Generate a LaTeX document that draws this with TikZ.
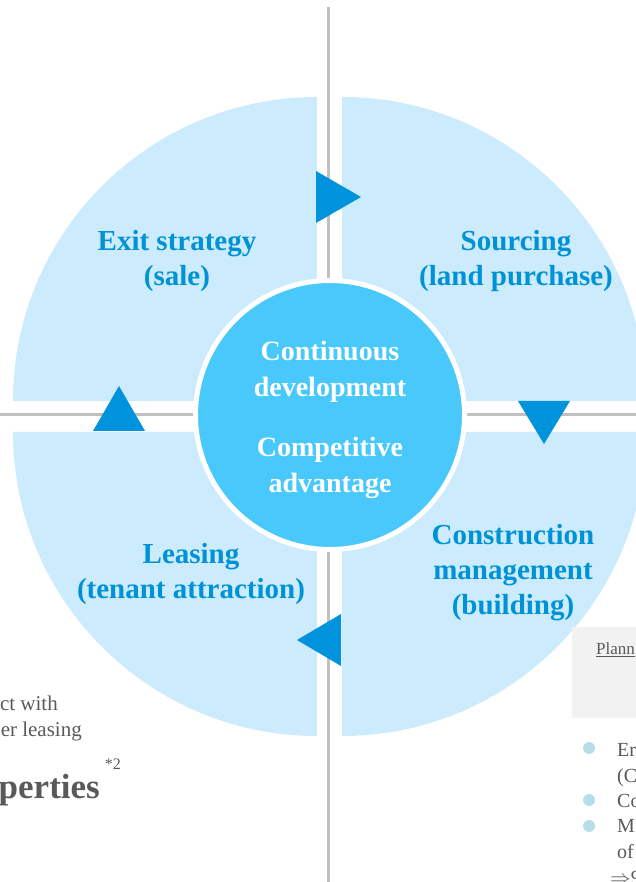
\documentclass[tikz,border=0pt]{standalone}
\usepackage{fontspec}
\setmainfont{Liberation Serif}
\usepackage{xcolor}
\usepackage{tikz}
\definecolor{quadfill}{HTML}{CCEBFC}
\definecolor{hubfill}{HTML}{49C8FB}
\definecolor{arrowblue}{HTML}{0093DD}
\definecolor{labelblue}{HTML}{0092D6}
\definecolor{axisgray}{HTML}{C0C0C0}
\definecolor{notegray}{HTML}{595959}
\definecolor{boxgray}{HTML}{F2F2F2}
\definecolor{dotteal}{HTML}{B7DEE8}

\begin{document}
\begin{tikzpicture}[x=1pt,y=1pt,
		quad/.style={fill=quadfill},
		turn/.style={fill=arrowblue},
		phase/.style={text=labelblue,font=\fontsize{29}{35}\selectfont\bfseries,align=center},
		hubtext/.style={text=white,font=\fontsize{28}{36}\selectfont\bfseries,align=center},
		note/.style={text=notegray,font=\fontsize{20}{26}\selectfont,inner sep=0pt},
		bulletdot/.style={circle,fill=dotteal,inner sep=0pt,minimum size=12pt}]
		\useasboundingbox (0,0) rectangle (636,882);
		\clip (0,0) rectangle (636,882);
		\fill[quad] (317,481) -- +(180:304) arc[start angle=180,end angle=90,radius=304pt] -- cycle;
		\fill[quad] (342,481) -- +(90:304) arc[start angle=90,end angle=0,radius=304pt] -- cycle;
		\fill[quad] (342,450) -- +(0:304) arc[start angle=0,end angle=-90,radius=304pt] -- cycle;
		\fill[quad] (317,450) -- +(270:304) arc[start angle=270,end angle=180,radius=304pt] -- cycle;
		\draw[axisgray,line width=3pt] (328.5,875) -- (328.5,0);
		\draw[axisgray,line width=3pt] (0,467) -- (636,467);
		\fill[turn] (316,711) -- (361,685) -- (316,659) -- cycle;
		\fill[turn] (518,481) -- (570,481) -- (544,438) -- cycle;
		\fill[turn] (341,268) -- (297,242) -- (341,216) -- cycle;
		\fill[turn] (93,451) -- (119,496) -- (145,451) -- cycle;
		\filldraw[fill=hubfill,draw=white,line width=5pt] (330,467) circle (134.5pt);
		\node[phase] (exit) at (177,620.5) {Exit strategy\\(sale)};
		\node[phase] (sourcing) at (516,620.5) {Sourcing\\(land purchase)};
		\node[phase] (construction) at (513,309) {Construction\\management\\(building)};
		\node[phase] (leasing) at (191,307.5) {Leasing\\(tenant attraction)};
		\node[hubtext] (continuous) at (330,510) {Continuous\\development};
		\node[hubtext] (competitive) at (330,414) {Competitive\\advantage};
		\node[note,anchor=base east,font=\fontsize{21}{26}\selectfont] (withline) at (58,171) {ct with};
		\node[note,anchor=base east,font=\fontsize{21}{26}\selectfont] (leaseline) at (82,145) {er leasing};
		\node[anchor=base east,text=notegray,font=\fontsize{35}{40}\selectfont\bfseries,inner sep=0pt] (props) at (100,83) {perties};
		\node[anchor=base east,text=notegray,font=\fontsize{16}{18}\selectfont,inner sep=0pt] (footref) at (121,112) {*2};
		\fill[boxgray] (572,164) rectangle (640,255);
		\node[note,anchor=base west,font=\fontsize{17}{20}\selectfont] (plan) at (596,227) {\underline{Plann}};
		\node[bulletdot] (dota) at (589,134) {};
		\node[bulletdot] (dotb) at (589,82) {};
		\node[bulletdot] (dotc) at (589,56) {};
		\node[note,anchor=base west] (linea) at (617,125) {Er};
		\node[note,anchor=base west] (lineb) at (617,99) {(C};
		\node[note,anchor=base west] (linec) at (617,74) {Co};
		\node[note,anchor=base west] (lined) at (617,49) {M};
		\node[note,anchor=base west] (linee) at (617,23) {of};
		\node[note,anchor=base west] (linef) at (610,-2) {$\Rightarrow$9};
	\end{tikzpicture}
\end{document}
